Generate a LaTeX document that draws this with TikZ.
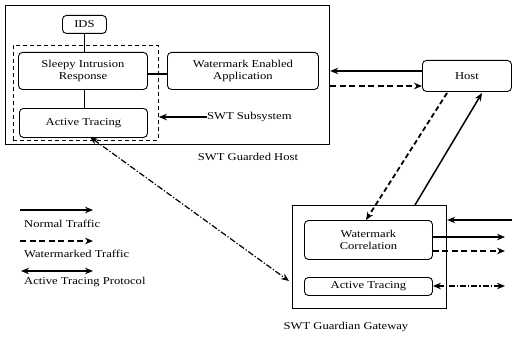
\documentclass[tikz,border=0pt]{standalone}
\usepackage{fontspec}
\setmainfont{Liberation Serif}[FakeStretch=1.2]
\usetikzlibrary{arrows.meta}
\begin{document}
\begin{tikzpicture}[x=1pt,y=-1pt,
  every node/.style={font=\fontsize{10.5}{11.5}\selectfont},
  rbox/.style={draw,rounded corners=4pt,line width=0.9pt,inner sep=0pt,align=center},
  outerbox/.style={draw,line width=1.2pt},
  conn/.style={line width=1.3pt},
  arr/.style={line width=1.5pt,-{Stealth[length=8pt,width=6.5pt]}},
  darr/.style={line width=1.5pt,dash pattern=on 6pt off 3.5pt,-{Stealth[length=8pt,width=6.5pt]}},
  parr/.style={line width=1.2pt,dash pattern=on 6pt off 2pt on 1.2pt off 2pt,{Stealth[length=8pt,width=6.5pt]}-{Stealth[length=8pt,width=6.5pt]}},
  lbl/.style={inner sep=0pt}]
\useasboundingbox (0,0) rectangle (514,337);

% SWT guarded host
\node[outerbox,minimum width=324pt,minimum height=139pt,anchor=north west] (hostbox) at (5,5) {};
\node[draw,line width=0.9pt,dash pattern=on 4pt off 3pt,minimum width=145pt,minimum height=95pt,anchor=north west] (subsys) at (13,45) {};
\node[rbox,minimum width=44pt,minimum height=18pt,anchor=north west] (ids) at (62,15) {IDS};
\node[rbox,minimum width=129pt,minimum height=37pt,anchor=north west] (sleepy) at (18,52) {Sleepy Intrusion\\Response};
\node[rbox,minimum width=128pt,minimum height=29pt,anchor=north west] (athost) at (19,108) {Active Tracing};
\node[rbox,minimum width=151pt,minimum height=37pt,anchor=north west] (wea) at (167,52) {Watermark Enabled\\Application};
\node[lbl,anchor=west] (subsyslbl) at (207,117) {SWT Subsystem};
\node[lbl] (hostlbl) at (248,157) {SWT Guarded Host};

% Host
\node[rbox,minimum width=89pt,minimum height=31pt,anchor=north west] (host) at (422,60) {Host};

% Gateway
\node[outerbox,minimum width=154pt,minimum height=103pt,anchor=north west] (gw) at (292,205) {};
\node[rbox,minimum width=128pt,minimum height=39pt,anchor=north west] (wc) at (304,220) {Watermark\\Correlation};
\node[rbox,minimum width=128pt,minimum height=18pt,anchor=north west] (atgw) at (304,277) {Active Tracing};
\node[lbl] (gwlbl) at (346,327) {SWT Guardian Gateway};

% connectors inside host
\draw[conn] (ids.south) -- (ids.south |- sleepy.north);
\draw[conn] (ids.south |- sleepy.south) -- (ids.south |- athost.north);
\draw[conn] (sleepy.east |- 0,74) -- (wea.west |- 0,74);
\draw[arr] (subsyslbl.west) -- (subsys.east |- subsyslbl.west);

% host traffic
\coordinate (hin) at (hostbox.east |- 0,71);
\coordinate (hout) at (hostbox.east |- 0,86);
\draw[arr] (host.west |- hin) -- (hin);
\draw[darr] (hout) -- (host.west |- hout);

% host <-> gateway
\coordinate (hd) at (447,93);
\coordinate (hs) at (482,93);
\draw[darr,line width=1.8pt,dash pattern=on 5pt off 3pt] (hd) -- (wc.north -| 366,0);
\draw[arr] (gw.north -| 415,0) -- (hs);

% active tracing protocol
\coordinate (ap1) at (90,137);
\coordinate (ap2) at (289,281);
\draw[parr] (ap1) -- (ap2);

% gateway right side
\coordinate (g1) at (512,220);
\coordinate (g2) at (505,237);
\coordinate (g3) at (505,251);
\coordinate (g4) at (505,286);
\draw[arr] (g1) -- (gw.east |- g1);
\draw[arr] (wc.east |- g2) -- (g2);
\draw[darr] (wc.east |- g3) -- (g3);
\draw[parr] (atgw.east |- g4) -- (g4);

% legend
\coordinate (l1a) at (20,210); \coordinate (l1b) at (93,210);
\coordinate (l2a) at (20,241); \coordinate (l2b) at (93,241);
\coordinate (l3a) at (21,271); \coordinate (l3b) at (93,271);
\draw[arr] (l1a) -- (l1b);
\draw[darr] (l2a) -- (l2b);
\draw[line width=1.3pt,{Stealth[length=8pt,width=6.5pt]}-{Stealth[length=8pt,width=6.5pt]}] (l3a) -- (l3b);
\node[lbl,anchor=west] (leg1) at (24,224) {Normal Traffic};
\node[lbl,anchor=west] (leg2) at (24,254) {Watermarked Traffic};
\node[lbl,anchor=west] (leg3) at (24,282) {Active Tracing Protocol};
\end{tikzpicture}
\end{document}
